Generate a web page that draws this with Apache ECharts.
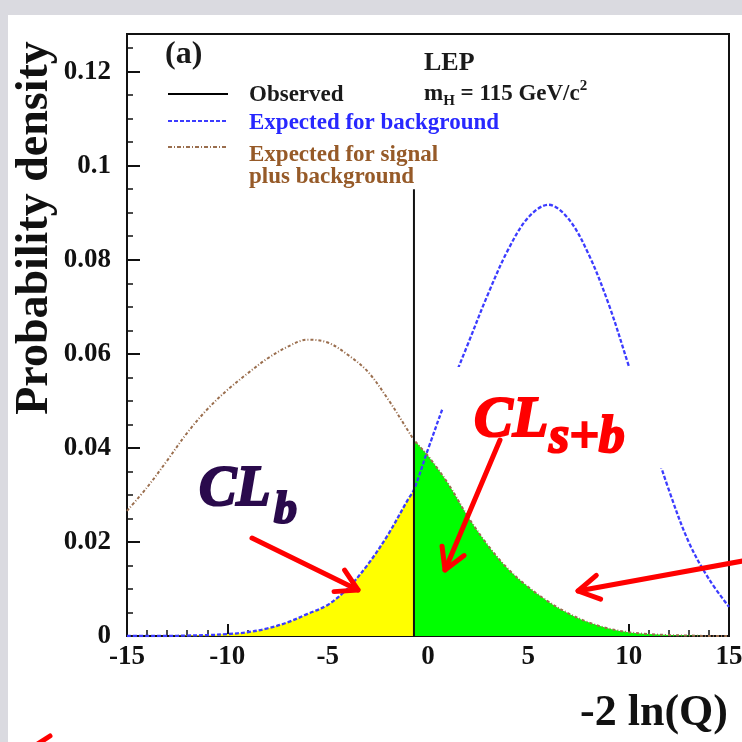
<!DOCTYPE html>
<html><head><meta charset="utf-8">
<script src="https://cdn.jsdelivr.net/npm/echarts@6/dist/echarts.min.js"></script>
<style>html,body{margin:0;padding:0;background:#fff}#c{width:742px;height:742px}</style>
</head><body><div id="c"></div>
<script>
// ---- data ----
const xValues = [-15,-14,-13,-12,-11,-10,-9,-8,-7,-6,-5,-4,-3,-2,-1,0,1,2,3,4,5,6,7,8,9,10,11,12,13,14,15];
const backgroundDensity = [0.0000,0.0000,0.0000,0.0001,0.0002,0.0004,0.0008,0.0016,0.0029,0.0047,0.0066,0.0101,0.0152,0.0215,0.0290,0.0397,0.0515,0.0622,0.0728,0.0822,0.0890,0.0917,0.0887,0.0812,0.0706,0.0575,0.0442,0.0311,0.0199,0.0121,0.0062];
const signalPlusBackgroundDensity = [0.0266,0.0316,0.0373,0.0432,0.0482,0.0523,0.0558,0.0590,0.0615,0.0630,0.0624,0.0598,0.0562,0.0504,0.0437,0.0383,0.0324,0.0253,0.0192,0.0142,0.0104,0.0073,0.0048,0.0029,0.0016,0.0008,0.0004,0.0002,0.0001,0.0000,0.0000];
const observedX = -0.7;
const observedLineTop = 0.095;
const backgroundAtObserved = 0.0311;
const signalPlusBackgroundAtObserved = 0.0417;
const xAxisRange = [-15, 15];
const yAxisRange = [0, 0.128];
const legendLabels = ['Observed', 'Expected for background', 'Expected for signal', 'plus background'];

// ---- build series data ----
function withObserved(ys, yObs) {
  const pts = xValues.map((x, i) => [x, ys[i]]);
  pts.push([observedX, yObs]);
  pts.sort((a, b) => a[0] - b[0]);
  return pts;
}
const bkgLine = withObserved(backgroundDensity, backgroundAtObserved);
const sbLine = withObserved(signalPlusBackgroundDensity, signalPlusBackgroundAtObserved);
const yellowFill = bkgLine.filter(p => p[0] <= observedX);
const greenFill = sbLine.filter(p => p[0] >= observedX);

const SERIF = "'Liberation Serif', 'Times New Roman', serif";
const BLUE = '#3c3cff';
const BROWN = '#9a6e4e';
const RED = '#ff0000';

function txt(x, y, s, fs, color, extra) {
  return Object.assign({
    type: 'text', x: x, y: y, z: 100,
    style: Object.assign({ text: s, fontSize: fs, fontFamily: SERIF, fontWeight: 'bold', fill: color, align: 'left', verticalAlign: 'middle' }, (extra && extra.style) || {})
  }, extra && extra.el || {});
}
function arrow(x1, y1, x2, y2) {
  const ang = Math.atan2(y2 - y1, x2 - x1), L = 24, a = Math.PI / 6;
  return [
    { type: 'line', z: 100, shape: { x1: x1, y1: y1, x2: x2, y2: y2 }, style: { stroke: RED, lineWidth: 5, lineCap: 'round' } },
    { type: 'polyline', z: 100, shape: { points: [
      [x2 - L * Math.cos(ang - a), y2 - L * Math.sin(ang - a)], [x2, y2],
      [x2 - L * Math.cos(ang + a), y2 - L * Math.sin(ang + a)]] },
      style: { stroke: RED, lineWidth: 5, fill: null, lineCap: 'round', lineJoin: 'round' } }
  ];
}
const heavy = c => ({ fontStyle: 'italic', stroke: c, lineWidth: 2.2 });

const graphics = [
  { type: 'rect', z: 100, shape: { x: 0, y: 0, width: 742, height: 15 }, style: { fill: '#dadae0' } },
  { type: 'rect', z: 100, shape: { x: 0, y: 0, width: 8, height: 742 }, style: { fill: '#dadae0' } },
  // gaps in the background curve behind the label
  { type: 'rect', z: 50, shape: { x: 436, y: 367, width: 32, height: 42 }, style: { fill: '#fff' } },
  { type: 'rect', z: 50, shape: { x: 622, y: 367, width: 46, height: 101 }, style: { fill: '#fff' } },
  // legend
  { type: 'line', z: 100, shape: { x1: 168, y1: 94, x2: 228, y2: 94 }, style: { stroke: '#000', lineWidth: 2 } },
  { type: 'line', z: 100, shape: { x1: 168, y1: 121, x2: 228, y2: 121 }, style: { stroke: BLUE, lineWidth: 2, lineDash: [4, 2] } },
  { type: 'line', z: 100, shape: { x1: 168, y1: 147, x2: 228, y2: 147 }, style: { stroke: BROWN, lineWidth: 2, lineDash: [4, 2, 1, 2] } },
  txt(249, 95, legendLabels[0], 23, '#1a1a1a'),
  txt(249, 123, legendLabels[1], 23, '#2828ff'),
  txt(249, 155, legendLabels[2], 23, '#965a28'),
  txt(249, 177, legendLabels[3], 23, '#965a28'),
  txt(165, 55, '(a)', 32, '#1a1a1a'),
  txt(424, 63, 'LEP', 26, '#1a1a1a'),
  { type: 'text', x: 424, y: 94, z: 100, style: {
      text: '{m|m}{h|H}{m| = 115 GeV/c}{s|2}', verticalAlign: 'middle', align: 'left',
      rich: {
        m: { fontSize: 23, fontFamily: SERIF, fontWeight: 'bold', fill: '#1a1a1a', lineHeight: 30, verticalAlign: 'middle' },
        h: { fontSize: 15, fontFamily: SERIF, fontWeight: 'bold', fill: '#1a1a1a', lineHeight: 15, verticalAlign: 'bottom' },
        s: { fontSize: 15, fontFamily: SERIF, fontWeight: 'bold', fill: '#1a1a1a', lineHeight: 15, verticalAlign: 'top' }
      } } },
  // axis titles
  { type: 'text', x: 35, y: 228, rotation: Math.PI / 2, z: 100, style: { text: 'Probability density', fontSize: 46, fontFamily: SERIF, fontWeight: 'bold', fill: '#111', align: 'center', verticalAlign: 'middle' } },
  txt(728, 714, '-2 ln(Q)', 44, '#111', { style: { align: 'right' } }),
  // CL labels
  txt(199, 491, 'CL', 56, '#2a0a4c', { style: heavy('#2a0a4c') }),
  txt(274, 511, 'b', 46, '#2a0a4c', { style: heavy('#2a0a4c') }),
  txt(474, 421, 'CL', 58, RED, { style: heavy(RED) }),
  txt(549, 439, 's+b', 52, RED, { style: heavy(RED) })
].concat(arrow(252, 538, 358, 590), arrow(500, 440, 445, 570), arrow(748, 560, 578, 591),
  [{ type: 'line', z: 100, shape: { x1: 36, y1: 745, x2: 50, y2: 736 }, style: { stroke: RED, lineWidth: 5, lineCap: 'round' } }]);

const chart = echarts.init(document.getElementById('c'), null, { renderer: 'canvas' });
chart.setOption({
  animation: false,
  backgroundColor: '#fff',
  grid: { left: 127, right: 13, top: 34, bottom: 106, show: true, borderColor: '#111', borderWidth: 2, backgroundColor: 'transparent', containLabel: false, outerBoundsMode: 'none' },
  xAxis: {
    type: 'value', min: xAxisRange[0], max: xAxisRange[1], interval: 5,
    axisLine: { show: true, onZero: false, lineStyle: { color: '#111', width: 2 } },
    axisTick: { show: true, inside: true, length: 12, lineStyle: { color: '#111', width: 2 } },
    minorTick: { show: true, splitNumber: 5, length: 6, lineStyle: { color: '#111', width: 1.5 } },
    splitLine: { show: false },
    axisLabel: { color: '#111', fontSize: 27, fontFamily: SERIF, fontWeight: 'bold', margin: 8 }
  },
  yAxis: {
    type: 'value', min: yAxisRange[0], max: yAxisRange[1], interval: 0.02,
    axisLine: { show: true, onZero: false, lineStyle: { color: '#111', width: 2 } },
    axisTick: { show: true, inside: true, length: 13, lineStyle: { color: '#111', width: 2 } },
    minorTick: { show: true, splitNumber: 4, length: 6, lineStyle: { color: '#111', width: 1.5 } },
    splitLine: { show: false },
    axisLabel: { color: '#111', fontSize: 27, fontFamily: SERIF, fontWeight: 'bold', margin: 16, showMaxLabel: false }
  },
  series: [
    { name: 'CLb', type: 'line', data: yellowFill, smooth: 0.35, showSymbol: false, symbol: 'none', z: 1,
      lineStyle: { width: 0 }, areaStyle: { color: '#ffff00', opacity: 1 }, emphasis: { disabled: true } },
    { name: 'CLs+b', type: 'line', data: greenFill, smooth: 0.35, showSymbol: false, symbol: 'none', z: 1,
      lineStyle: { width: 0 }, areaStyle: { color: '#00ff00', opacity: 1 }, emphasis: { disabled: true } },
    { name: 'Expected for background', type: 'line', data: bkgLine, smooth: 0.35, showSymbol: false, symbol: 'none', z: 3,
      lineStyle: { color: BLUE, width: 2.3, type: [4, 2] }, emphasis: { disabled: true } },
    { name: 'Expected for signal plus background', type: 'line', data: sbLine, smooth: 0.35, showSymbol: false, symbol: 'none', z: 3,
      lineStyle: { color: BROWN, width: 2, type: [3, 2, 1, 2] }, emphasis: { disabled: true } },
    { name: 'Observed', type: 'line', data: [[observedX, 0], [observedX, observedLineTop]], showSymbol: false, symbol: 'none', z: 4,
      lineStyle: { color: '#111', width: 2 }, emphasis: { disabled: true } }
  ],
  graphic: { elements: graphics }
});
</script>
</body></html>
